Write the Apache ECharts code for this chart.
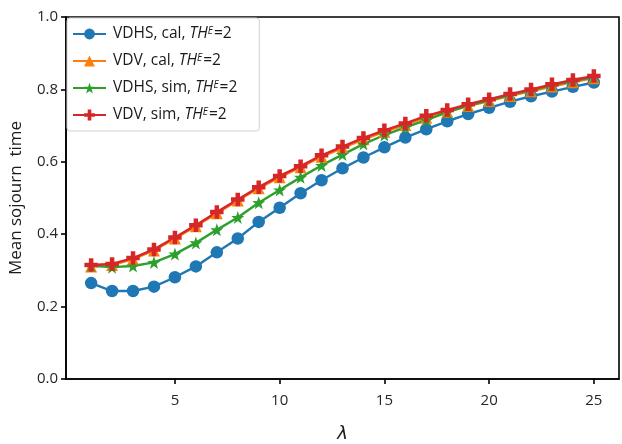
<!DOCTYPE html>
<html>
<head>
<meta charset="utf-8">
<script src="https://cdn.jsdelivr.net/npm/echarts@6/dist/echarts.min.js"></script>
<style>html,body{margin:0;padding:0;background:#fff}#c{width:622px;height:444px}</style>
</head>
<body>
<div id="c"></div>
<script>
const lambdas = [1,2,3,4,5,6,7,8,9,10,11,12,13,14,15,16,17,18,19,20,21,22,23,24,25];
const vdhsCal = [0.265,0.243,0.243,0.255,0.281,0.311,0.350,0.388,0.434,0.473,0.513,0.549,0.582,0.612,0.640,0.667,0.690,0.712,0.732,0.749,0.766,0.781,0.794,0.807,0.819];
const vdvCal  = [0.311,0.315,0.331,0.355,0.388,0.422,0.458,0.493,0.527,0.557,0.585,0.614,0.638,0.662,0.683,0.702,0.722,0.738,0.754,0.768,0.782,0.795,0.808,0.820,0.831];
const vdhsSim = [0.313,0.309,0.312,0.322,0.345,0.376,0.412,0.446,0.487,0.522,0.557,0.590,0.620,0.649,0.674,0.695,0.715,0.737,0.755,0.770,0.785,0.798,0.811,0.823,0.834];
const vdvSim  = [0.315,0.318,0.334,0.358,0.391,0.425,0.461,0.496,0.530,0.561,0.588,0.618,0.642,0.666,0.687,0.706,0.727,0.743,0.759,0.773,0.787,0.800,0.814,0.826,0.837];
const xTicks = [5,10,15,20,25];
const seriesNames = ['VDHS, cal, ', 'VDV, cal, ', 'VDHS, sim, ', 'VDV, sim, '];
const colors = ['#1f77b4','#ff7f0e','#2ca02c','#d62728'];

const FONT = '"Open Sans", "Noto Sans", sans-serif';
const star = 'path://M0,-10 L2.35,-3.24 L9.51,-3.09 L3.8,1.24 L5.88,8.09 L0,4 L-5.88,8.09 L-3.8,1.24 L-9.51,-3.09 L-2.35,-3.24 Z';
const plusFilled = 'path://M-1,-3 H1 V-1 H3 V1 H1 V3 H-1 V1 H-3 V-1 H-1 Z';
const symbols = ['circle','triangle',star,plusFilled];
const sizes = [12.5,12,13,13.5];
const datasets = [vdhsCal, vdvCal, vdhsSim, vdvSim];

const chart = echarts.init(document.getElementById('c'), null, {renderer:'canvas'});
chart.setOption({
  animation:false,
  textStyle:{fontFamily:FONT},
  grid:{left:66, right:3, top:17, bottom:65, outerBoundsMode:'none', containLabel:false,
    show:true, borderColor:'#000', borderWidth:1.6, backgroundColor:'transparent'},
  legend:{
    orient:'vertical', left:67, top:18,
    backgroundColor:'rgba(255,255,255,0.85)', borderColor:'#d0d0d0', borderWidth:1, borderRadius:3,
    padding:[8,22,8,5], itemGap:11, itemWidth:33, itemHeight:13.5,
    data: seriesNames,
    formatter: function(name){ return name + '{i|TH}{s|E}{n|=2}'; },
    textStyle:{fontFamily:FONT, fontSize:15.5, color:'#1a1a1a', padding:[0,0,0,2],
      rich:{
        i:{fontStyle:'italic', fontSize:15.5, fontFamily:FONT, color:'#1a1a1a'},
        s:{fontStyle:'italic', fontSize:10, fontFamily:FONT, color:'#1a1a1a', verticalAlign:'top', padding:[0,1,0,0]},
        n:{fontSize:15.5, fontFamily:FONT, color:'#1a1a1a'}
      }
    }
  },
  xAxis:{
    type:'value', min:-0.2, max:26.2,
    name:'λ', nameLocation:'middle', nameGap:46,
    nameTextStyle:{fontStyle:'italic', fontSize:18, color:'#1a1a1a', fontFamily:'"DejaVu Sans", sans-serif'},
    splitLine:{show:false},
    axisLine:{onZero:false, lineStyle:{color:'#000', width:1.6}},
    axisTick:{show:true, length:5, lineStyle:{color:'#000', width:1.6}, customValues:xTicks},
    axisLabel:{fontSize:15, color:'#262626', margin:14, customValues:xTicks}
  },
  yAxis:{
    type:'value', min:0, max:1, interval:0.2,
    name:'Mean sojourn  time', nameLocation:'middle', nameGap:41,
    nameTextStyle:{fontSize:17, color:'#1a1a1a'},
    splitLine:{show:false},
    axisLine:{show:true, onZero:false, lineStyle:{color:'#000', width:1.6}},
    axisTick:{show:true, length:5, lineStyle:{color:'#000', width:1.6}},
    axisLabel:{fontSize:15, color:'#262626', margin:8, formatter:v=>v.toFixed(1)}
  },
  series: datasets.map((d,k)=>({
    name: seriesNames[k], type:'line',
    data: lambdas.map((x,j)=>[x,d[j]]),
    symbol: symbols[k], symbolSize: sizes[k],
    showAllSymbol:true,
    itemStyle:{color:colors[k], borderColor:colors[k], borderWidth:0},
    lineStyle:{color:colors[k], width:2.4},
    emphasis:{disabled:true}
  }))
});
</script>
</body>
</html>
